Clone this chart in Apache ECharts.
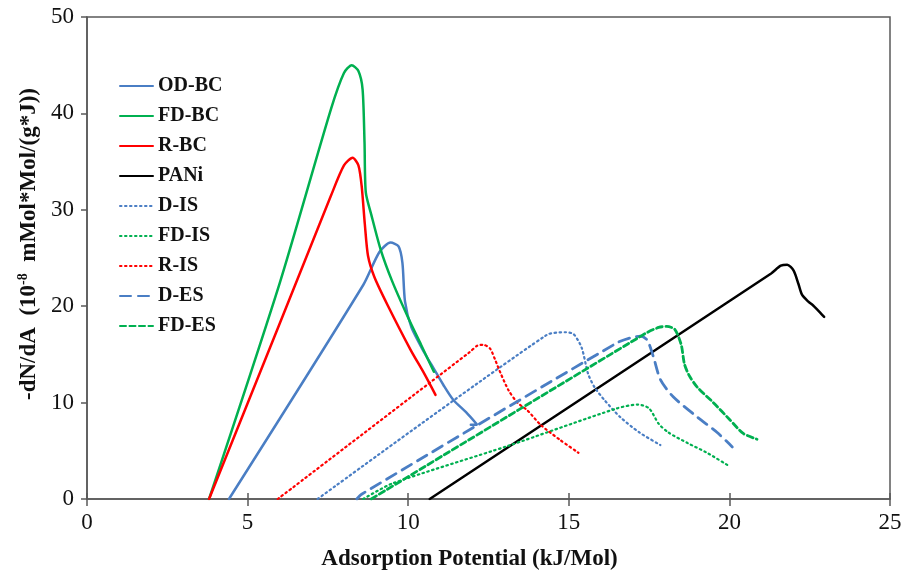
<!DOCTYPE html>
<html>
<head>
<meta charset="utf-8">
<script src="https://cdn.jsdelivr.net/npm/echarts@6/dist/echarts.min.js"></script>
<style>
  html, body { margin: 0; padding: 0; background: #fff; }
  #main { width: 913px; height: 577px; }
</style>
</head>
<body>
<div id="main"></div>
<script>
// 各曲线数据 (x: kJ/Mol, y: 10^-8 mMol*Mol/(g*J))
const odbcX = [4.42, 8.6, 9.1, 9.45, 9.7, 9.82, 9.9, 10.1, 10.5, 10.8, 11.1, 11.4, 11.8, 12.15, 11.95];
const odbcY = [0, 22.2, 25.6, 26.6, 26.2, 24.5, 20.5, 17.8, 15.2, 13.5, 11.8, 10.3, 9.0, 7.7, 7.7];

const fdbcX = [3.8, 6.0, 7.6, 8.0, 8.24, 8.45, 8.58, 8.64, 8.68, 8.85, 9.14, 9.5, 10.0, 10.4, 10.8];
const fdbcY = [0, 22.4, 40.5, 44.2, 45.0, 44.4, 42.5, 37.0, 31.8, 29.5, 25.9, 22.6, 18.8, 16.0, 13.2];

const rbcX = [3.8, 6.0, 7.6, 8.0, 8.27, 8.45, 8.55, 8.65, 8.75, 8.95, 9.36, 10.07, 10.5, 10.85];
const rbcY = [0, 18.2, 31.5, 34.6, 35.4, 34.6, 32.5, 28.5, 25.2, 23.0, 20.1, 15.5, 13.0, 10.8];

const paniX = [10.67, 21.3, 21.6, 21.8, 22.0, 22.15, 22.26, 22.45, 22.6, 22.75, 22.95];
const paniY = [0, 23.4, 24.2, 24.3, 23.7, 22.3, 21.2, 20.5, 20.1, 19.6, 18.9];

const disX = [7.18, 14.3, 14.9, 15.15, 15.4, 15.6, 15.8, 16.1, 16.6, 17.2, 17.85];
const disY = [0, 17.0, 17.3, 17.1, 15.7, 13.0, 11.6, 10.3, 8.5, 6.9, 5.6];

const fdisX = [8.6, 9.5, 13.1, 16.5, 17.15, 17.5, 17.8, 18.1, 18.7, 19.3, 20.0];
const fdisY = [0, 1.6, 5.5, 9.4, 9.8, 9.4, 7.8, 6.9, 5.8, 4.8, 3.4];

const risX = [5.94, 11.9, 12.15, 12.34, 12.55, 12.7, 12.87, 13.12, 13.4, 13.71, 14.12, 14.74, 15.3];
const risY = [0, 15.2, 15.9, 16.0, 15.6, 14.5, 13.1, 11.3, 10.0, 9.2, 7.7, 6.1, 4.8];

const desX = [8.4, 8.55, 16.5, 16.9, 17.23, 17.44, 17.63, 17.85, 18.25, 19.0, 19.62, 20.09];
const desY = [0, 0.5, 16.2, 16.7, 16.9, 16.5, 14.8, 12.4, 10.6, 8.5, 6.9, 5.4];

const fdesX = [8.85, 17.4, 17.8, 18.05, 18.3, 18.5, 18.6, 18.75, 19.0, 19.5, 20.02, 20.43, 20.86];
const fdesY = [0, 17.2, 17.8, 17.9, 17.6, 16.0, 14.0, 12.8, 11.6, 10.0, 8.2, 6.8, 6.2];

const names = ['OD-BC', 'FD-BC', 'R-BC', 'PANi', 'D-IS', 'FD-IS', 'R-IS', 'D-ES', 'FD-ES'];

const BLUE = '#4a7ec4';
const GREEN = '#00b050';
const RED = '#ff0000';
const BLACK = '#000000';
const FONT = '"Liberation Serif", "DejaVu Serif", serif';

// 把x,y数组合成点
const pts = (xs, ys) => xs.map((x, i) => [x, ys[i]]);

const mkLine = (name, xs, ys, color, type, width) => ({
    name: name,
    type: 'line',
    data: pts(xs, ys),
    symbol: 'none',
    smooth: 0.25,
    lineStyle: { color: color, width: width, type: type, cap: 'round' },
    itemStyle: { color: color },
    z: 3
});

var series = [
    mkLine(names[0], odbcX, odbcY, BLUE, 'solid', 2.5),
    mkLine(names[1], fdbcX, fdbcY, GREEN, 'solid', 2.5),
    mkLine(names[2], rbcX, rbcY, RED, 'solid', 2.5),
    mkLine(names[3], paniX, paniY, BLACK, 'solid', 2.5),
    mkLine(names[4], disX, disY, BLUE, [1.5, 3.5], 2.2),
    mkLine(names[5], fdisX, fdisY, GREEN, [1.5, 3.5], 2.2),
    mkLine(names[6], risX, risY, RED, [1.5, 3.5], 2.2),
    mkLine(names[7], desX, desY, BLUE, [11, 7], 2.8),
    mkLine(names[8], fdesX, fdesY, GREEN, [6, 3.5], 2.8)
];

var myChart = echarts.init(document.getElementById('main'));

var option = {
    animation: false,
    backgroundColor: '#ffffff',
    grid: {
        left: 87, right: 23, top: 17, bottom: 78,
        show: true, borderColor: '#595959', borderWidth: 1.5
    },
    legend: {
        orient: 'vertical',
        left: 119, top: 76,
        padding: 0,
        itemWidth: 33, itemHeight: 14, itemGap: 10,
        data: names,
        itemStyle: { opacity: 0 }, // 只要线，不要圆点
        textStyle: { fontFamily: FONT, fontWeight: 'bold', fontSize: 20, color: '#111', lineHeight: 20 }
    },
    xAxis: [
        {
            type: 'value', min: 0, max: 25, interval: 5,
            name: 'Adsorption Potential (kJ/Mol)',
            nameLocation: 'middle', nameGap: 49,
            nameTextStyle: { fontFamily: FONT, fontWeight: 'bold', fontSize: 23, color: '#111', padding: [0, 38, 0, 0] },
            axisLine: { lineStyle: { color: '#595959', width: 1.5 } },
            axisTick: { length: 7, lineStyle: { color: '#595959', width: 1.5 } },
            axisLabel: { fontFamily: FONT, fontSize: 23, color: '#111', margin: 12 },
            splitLine: { show: false }
        },
        {
            // 刻度向上的那半截
            type: 'value', min: 0, max: 25, interval: 5, position: 'bottom',
            axisLine: { show: false },
            axisTick: { inside: true, length: 6, lineStyle: { color: '#595959', width: 1.5 } },
            axisLabel: { show: false },
            splitLine: { show: false }
        }
    ],
    yAxis: {
        type: 'value', min: 0, max: 50, interval: 10,
        name: '-dN/dA  (10{sup|-8}  mMol*Mol/(g*J))',
        nameLocation: 'middle', nameGap: 43,
        nameTextStyle: {
            fontFamily: FONT, fontWeight: 'bold', fontSize: 23, color: '#111',
            padding: [0, 0, 0, 28],
            rich: {
                sup: { fontFamily: FONT, fontWeight: 'bold', fontSize: 14, color: '#111', padding: [0, 0, 11, 0] }
            }
        },
        axisLine: { show: true, lineStyle: { color: '#595959', width: 1.5 } },
        axisTick: { show: true, length: 6, lineStyle: { color: '#595959', width: 1.5 } },
        axisLabel: { fontFamily: FONT, fontSize: 23, color: '#111', margin: 13 },
        splitLine: { show: false }
    },
    series: series
};

myChart.setOption(option);
</script>
</body>
</html>
